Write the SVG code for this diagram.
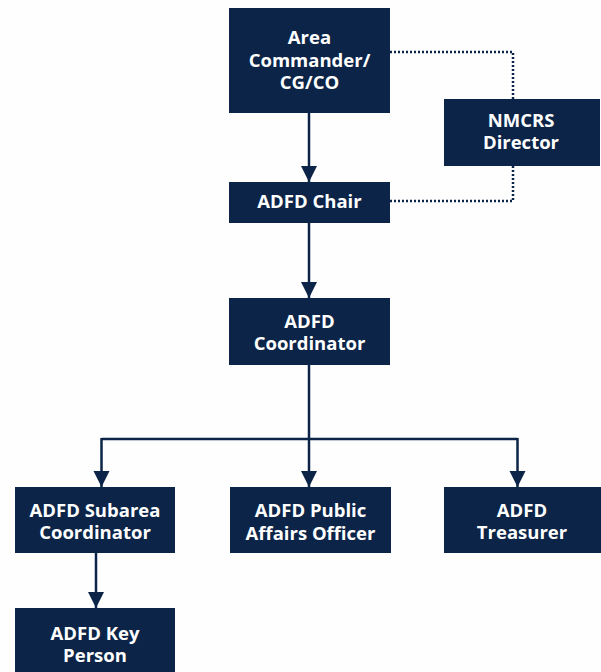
<svg xmlns="http://www.w3.org/2000/svg" width="601" height="672" viewBox="0 0 601 672">
<defs>
<marker id="arr" markerUnits="userSpaceOnUse" markerWidth="16" markerHeight="18" viewBox="0 0 16 18" refX="16" refY="8" orient="auto">
<path d="M0,0 L16,8 L0,16 Z" fill="#0b2447"/>
</marker>
<style>
.box{fill:#0b2447}
.t{fill:#ffffff;font-family:"Open Sans","Noto Sans",sans-serif;font-weight:700;font-size:18.5px;text-anchor:middle}
.ln{stroke:#0b2447;stroke-width:2.5;fill:none}
.dot{stroke:#0b2447;stroke-width:2.5;fill:none;stroke-dasharray:2 2}
</style>
</defs>
<rect width="601" height="672" fill="#fefefe"/>
<g id="connectors">
<line class="ln" x1="309" y1="113" x2="309" y2="182" marker-end="url(#arr)"/>
<line class="ln" x1="309" y1="223" x2="309" y2="298" marker-end="url(#arr)"/>
<polyline class="ln" points="309,365 309,439"/>
<polyline class="ln" points="101.5,439 517.5,439"/>
<line class="ln" x1="101.5" y1="438" x2="101.5" y2="487" marker-end="url(#arr)"/>
<line class="ln" x1="309" y1="438" x2="309" y2="487" marker-end="url(#arr)"/>
<line class="ln" x1="517.5" y1="438" x2="517.5" y2="487" marker-end="url(#arr)"/>
<line class="ln" x1="96" y1="553" x2="96" y2="608" marker-end="url(#arr)"/>
<polyline class="dot" points="390,52 513,52 513,99"/>
<polyline class="dot" points="513,166 513,201 390,201"/>
</g>
<g id="area-commander">
<rect class="box" x="229" y="8" width="161" height="105"/>
<text class="t" x="309.5" y="44">Area</text>
<text class="t" x="309.5" y="66.5">Commander/</text>
<text class="t" x="309.5" y="89">CG/CO</text>
</g>
<g id="nmcrs-director">
<rect class="box" x="444" y="99" width="156" height="67"/>
<text class="t" x="521" y="127">NMCRS</text>
<text class="t" x="521" y="149">Director</text>
</g>
<g id="adfd-chair">
<rect class="box" x="229" y="182" width="161" height="41"/>
<text class="t" x="309.5" y="208">ADFD Chair</text>
</g>
<g id="adfd-coordinator">
<rect class="box" x="229" y="298" width="161" height="67"/>
<text class="t" x="309.5" y="328">ADFD</text>
<text class="t" x="309.5" y="350">Coordinator</text>
</g>
<g id="adfd-subarea-coordinator">
<rect class="box" x="15" y="487" width="160" height="66"/>
<text class="t" x="95" y="517">ADFD Subarea</text>
<text class="t" x="95" y="539">Coordinator</text>
</g>
<g id="adfd-public-affairs-officer">
<rect class="box" x="230" y="487" width="161" height="66"/>
<text class="t" x="310.5" y="517">ADFD Public</text>
<text class="t" x="310.5" y="540">Affairs Officer</text>
</g>
<g id="adfd-treasurer">
<rect class="box" x="444" y="487" width="157" height="66"/>
<text class="t" x="522" y="517">ADFD</text>
<text class="t" x="522" y="539">Treasurer</text>
</g>
<g id="adfd-key-person">
<rect class="box" x="15" y="608" width="160" height="66"/>
<text class="t" x="95" y="640">ADFD Key</text>
<text class="t" x="95" y="662">Person</text>
</g>
</svg>
